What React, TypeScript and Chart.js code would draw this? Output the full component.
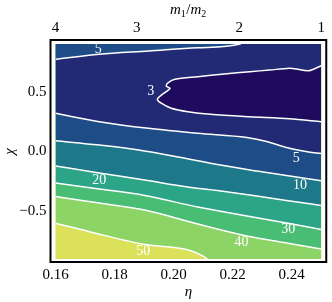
import React, { useEffect, useRef } from "react";
import { Chart, registerables } from "chart.js";

Chart.register(...registerables);

const FONT = "'Liberation Serif', 'Times New Roman', serif";

// Axis ranges
const X_MIN = 0.16;
const X_MAX = 0.25;
const Y_MIN = -0.9;
const Y_MAX = 0.9;

// Tick labels
const xTickValues = [0.16, 0.18, 0.2, 0.22, 0.24];
const xTickLabels = ["0.16", "0.18", "0.20", "0.22", "0.24"];
const topMassRatios = [4, 3, 2, 1];
const topTickLabels = ["4", "3", "2", "1"];
const yTickValues = [-0.5, 0, 0.5];
const yTickLabels = ["\u22120.5", "0.0", "0.5"];

// Top axis title pieces: [text, isSubscript]
const topTitleParts: [string, boolean][] = [["m", false], ["1", true], ["/", false], ["m", false], ["2", true]];

// Contour lines (eta, chi)
const c5TopEta = [0.16, 0.1748, 0.1915, 0.2082, 0.2225, 0.2235];
const c5TopChi = [0.772, 0.814, 0.841, 0.869, 0.9, 0.92];

const c3Eta = [0.25, 0.2458, 0.2415, 0.2392, 0.2325, 0.2258, 0.2172, 0.2082, 0.2005, 0.1982, 0.1975, 0.1988, 0.1975, 0.1955, 0.1945, 0.1958, 0.1992, 0.2048, 0.2125, 0.2258, 0.2392, 0.25];
const c3Chi = [0.718, 0.676, 0.691, 0.697, 0.682, 0.668, 0.649, 0.626, 0.604, 0.576, 0.548, 0.529, 0.501, 0.465, 0.437, 0.404, 0.362, 0.333, 0.311, 0.291, 0.275, 0.25];

const c5LowEta = [0.16, 0.1748, 0.1915, 0.2082, 0.2248, 0.2315, 0.2382, 0.2448, 0.25];
const c5LowChi = [0.32, 0.25, 0.194, 0.152, 0.117, 0.084, 0.033, 0.0, -0.017];

const c10Eta = [0.16, 0.1748, 0.1882, 0.2015, 0.2148, 0.2282, 0.2382, 0.25];
const c10Chi = [0.09, 0.054, 0.013, -0.046, -0.109, -0.163, -0.201, -0.244];

const c20Eta = [0.16, 0.1748, 0.1902, 0.2048, 0.2148, 0.2282, 0.2382, 0.25];
const c20Chi = [-0.121, -0.18, -0.239, -0.297, -0.327, -0.373, -0.41, -0.452];

const c30Eta = [0.16, 0.1748, 0.1902, 0.2082, 0.2248, 0.2382, 0.25];
const c30Chi = [-0.264, -0.314, -0.368, -0.465, -0.54, -0.599, -0.653];

const c40Eta = [0.16, 0.1748, 0.1902, 0.2082, 0.2248, 0.2382, 0.25];
const c40Chi = [-0.377, -0.431, -0.49, -0.607, -0.707, -0.766, -0.816];

const c50Eta = [0.16, 0.1715, 0.1915, 0.2115, 0.2125, 0.25];
const c50Chi = [-0.601, -0.671, -0.783, -0.9, -0.95, -0.95];

// Contour labels
const labelText = ["5", "3", "5", "10", "20", "30", "40", "50"];
const labelEta = [0.1745, 0.1923, 0.2415, 0.2428, 0.1748, 0.2388, 0.223, 0.1897];
const labelChi = [0.858, 0.507, -0.054, -0.28, -0.239, -0.649, -0.758, -0.833];

// Band colours
const colBelow3 = "#1f0b5e";
const col3to5 = "#222a75";
const col5to10 = "#1d4c87";
const col10to20 = "#1d788a";
const col20to30 = "#2ba487";
const col30to40 = "#48bd73";
const col40to50 = "#8cd465";
const colAbove50 = "#dbe25a";

const pts = (xs: number[], ys: number[]) => xs.map((x, i) => ({ x, y: ys[i] }));

const plotBackground = {
  id: "plotBackground",
  beforeDraw(chart: any) {
    const { ctx, chartArea: a } = chart;
    ctx.save();
    ctx.fillStyle = colAbove50;
    ctx.fillRect(a.left, a.top, a.right - a.left, a.bottom - a.top);
    ctx.restore();
  },
};

const contourLabels = {
  id: "contourLabels",
  afterDatasetsDraw(chart: any) {
    const { ctx, scales } = chart;
    ctx.save();
    ctx.font = `14px ${FONT}`;
    ctx.fillStyle = "#ffffff";
    ctx.textAlign = "center";
    ctx.textBaseline = "middle";
    labelText.forEach((t, i) => {
      ctx.fillText(t, scales.x.getPixelForValue(labelEta[i]), scales.y.getPixelForValue(labelChi[i]));
    });
    ctx.restore();
  },
};

const topTitle = {
  id: "topTitle",
  afterDraw(chart: any) {
    const { ctx, chartArea: a } = chart;
    ctx.save();
    ctx.fillStyle = "#000";
    ctx.textBaseline = "alphabetic";
    ctx.textAlign = "left";
    const fontFor = (sub: boolean, t: string) =>
      sub ? `10px ${FONT}` : t === "/" ? `15px ${FONT}` : `italic 15px ${FONT}`;
    let total = 0;
    const widths = topTitleParts.map(([t, sub]) => {
      ctx.font = fontFor(sub, t);
      const w = ctx.measureText(t).width + (sub ? 0.5 : 0);
      total += w;
      return w;
    });
    let x = (a.left + a.right) / 2 - total / 2;
    const base = 14;
    topTitleParts.forEach(([t, sub], i) => {
      ctx.font = fontFor(sub, t);
      ctx.fillText(t, x, sub ? base + 3 : base);
      x += widths[i];
    });
    ctx.restore();
  },
};

const framePlugin = {
  id: "frame",
  afterDraw(chart: any) {
    const { ctx, chartArea: a } = chart;
    ctx.save();
    ctx.strokeStyle = "#000";
    ctx.lineWidth = 2;
    ctx.strokeRect(a.left - 5, a.top - 4, a.right - a.left + 10, a.bottom - a.top + 7);
    ctx.restore();
  },
};

export default function App() {
  const ref = useRef<HTMLCanvasElement>(null);

  useEffect(() => {
    document.body.style.margin = "0";
    const canvas = ref.current;
    if (!canvas) return;

    const line = (xs: number[], ys: number[], color: string, fill: any, mono = true) => ({
      data: pts(xs, ys),
      fill,
      backgroundColor: color,
      borderColor: "#ffffff",
      borderWidth: 1.5,
      pointRadius: 0,
      cubicInterpolationMode: mono ? "monotone" : "default",
      tension: 0.3,
      xAxisID: "x",
      yAxisID: "y",
    });

    const tickFont = { family: FONT, size: 15 };

    const chart = new Chart(canvas, {
      type: "line",
      data: {
        datasets: [
          line(c3Eta, c3Chi, colBelow3, "shape", false),
          line(c5TopEta, c5TopChi, col5to10, "end"),
          line(c5LowEta, c5LowChi, col3to5, "end"),
          line(c10Eta, c10Chi, col5to10, "end"),
          line(c20Eta, c20Chi, col10to20, "end"),
          line(c30Eta, c30Chi, col20to30, "end"),
          line(c40Eta, c40Chi, col30to40, "end"),
          line(c50Eta, c50Chi, col40to50, "end"),
        ] as any,
      },
      options: {
        animation: false,
        responsive: false,
        devicePixelRatio: 1,
        events: [],
        layout: { padding: { left: 0, right: 6.5, top: 0, bottom: 0 } },
        plugins: {
          legend: { display: false },
          tooltip: { enabled: false },
          filler: { propagate: false, drawTime: "beforeDatasetsDraw" },
        } as any,
        scales: {
          x: {
            type: "linear",
            position: "bottom",
            min: X_MIN,
            max: X_MAX,
            grid: { display: false, drawTicks: false },
            border: { display: false },
            ticks: {
              font: tickFont,
              color: "#000",
              padding: 7,
              maxRotation: 0,
              autoSkip: false,
              callback: (_v: any, i: number) => xTickLabels[i],
            },
            afterBuildTicks: (s: any) => {
              s.ticks = xTickValues.map((value) => ({ value }));
            },
            afterFit: (s: any) => {
              s.height = 43;
            },
            title: {
              display: true,
              text: "\u03B7",
              color: "#000",
              font: { family: FONT, size: 15, style: "italic" },
              padding: { top: 0, bottom: 1 },
            },
          },
          x2: {
            type: "linear",
            axis: "x",
            position: "top",
            min: X_MIN,
            max: X_MAX,
            grid: { display: false, drawTicks: false },
            border: { display: false },
            ticks: {
              font: tickFont,
              color: "#000",
              padding: 7,
              maxRotation: 0,
              autoSkip: false,
              callback: (_v: any, i: number) => topTickLabels[i],
            },
            afterBuildTicks: (s: any) => {
              s.ticks = topMassRatios.map((q) => ({ value: q / ((1 + q) * (1 + q)) }));
            },
            afterFit: (s: any) => {
              s.height = 44;
            },
            title: { display: false },
          },
          y: {
            type: "linear",
            position: "left",
            min: Y_MIN,
            max: Y_MAX,
            grid: { display: false, drawTicks: false },
            border: { display: false },
            ticks: {
              font: tickFont,
              color: "#000",
              padding: 9,
              autoSkip: false,
              callback: (_v: any, i: number) => yTickLabels[i],
            },
            afterBuildTicks: (s: any) => {
              s.ticks = yTickValues.map((value) => ({ value }));
            },
            afterFit: (s: any) => {
              s.width = 55.5;
            },
            title: {
              display: true,
              text: "\u03C7",
              color: "#000",
              font: { family: FONT, size: 15, style: "italic" },
              padding: { top: 1, bottom: 0 },
            },
          },
        } as any,
      },
      plugins: [plotBackground, contourLabels, topTitle, framePlugin],
    });

    return () => chart.destroy();
  }, []);

  return (
    <div style={{ width: 332, height: 302 }}>
      <canvas ref={ref} width={332} height={302} style={{ display: "block" }} />
    </div>
  );
}
